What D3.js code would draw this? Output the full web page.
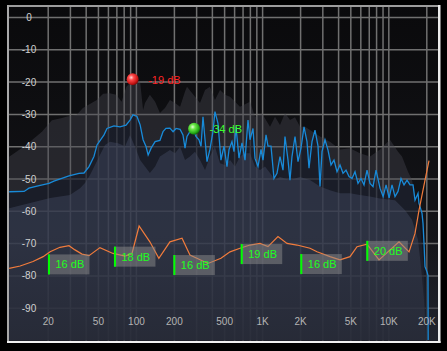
<!DOCTYPE html>
<html><head><meta charset="utf-8">
<script src="https://cdn.jsdelivr.net/npm/d3@7"></script>
<style>
html,body{margin:0;padding:0;background:#000;overflow:hidden;}
svg{display:block;}
text{font-family:"Liberation Sans",Arial,sans-serif;}
</style></head><body>
<svg id="c" width="447" height="351"></svg>
<script>
// ---- data ----
const freqTicks = [20,50,100,200,500,1000,2000,5000,10000,20000];
const freqTickLabels = ["20","50","100","200","500","1K","2K","5K","10K","20K"];
const gridFreqs = [20,30,40,50,60,70,80,90,100,200,300,400,500,600,700,800,900,1000,2000,3000,4000,5000,6000,7000,8000,9000,10000,20000];
const dbTicks = [0,-10,-20,-30,-40,-50,-60,-70,-80,-90];
const dbTickLabels = ["0","-10","-20","-30","-40","-50","-60","-70","-80","-90"];

const blueFreq = [9.9,13,14.2,17.1,20.5,22.4,29.5,35.4,38.8,42.5,46.5,49.2,55.9,59,67,74.8,83.5,89.8,94.8,102,108,114,120,125,132,142,155,164,173,186,197,208,224,236,245,254,268,283,299,316,328,340,353,366,386,408,423,447,472,499,527,547,577,599,621,656,693,732,773,802,847,878,928,980,1016,1074,1113,1176,1242,1312,1386,1464,1518,1604,1663,1725,1823,1925,2033,2148,2268,2353,2485,2625,2773,2876,2983,3150,3328,3515,3713,3922,4143,4376,4622,4882,5157,5447,5754,6078,6420,6781,7163,7566,7992,8596,9100,9600,10150,10700,11300,11937,12608,13318,14068,14860,15697,16280,17195,17500,17834,18496,18840,19180,19533,20259,20632,20700];
const blueDb = [-54.1,-54,-53,-52.2,-51.5,-50.8,-49.2,-48.4,-48.3,-46.3,-43.2,-39.6,-36.5,-34.5,-33.7,-34,-33.5,-31.9,-30.3,-30.8,-33.4,-38,-40,-42.7,-40.6,-38.6,-38.2,-35.5,-34.5,-34.4,-35.5,-34.5,-34.8,-36.5,-40.6,-37,-35.5,-34.5,-37,-38,-40,-30.9,-38,-44.8,-41,-35.5,-29.3,-32.9,-44.3,-40,-46.3,-41,-38.6,-41.7,-34,-43.7,-39,-44.3,-31.9,-38,-34.5,-43.7,-46.3,-41,-44.3,-36.5,-40,-40,-50,-48.4,-43.2,-47.4,-37,-44.3,-50.5,-43.2,-37,-44.8,-40.6,-34,-38.6,-46.8,-38.6,-35,-40,-52.5,-41.7,-38,-41.2,-45.8,-44.3,-47.9,-45.8,-48.4,-47.4,-49.4,-50,-47.9,-51.5,-50,-52,-47.4,-51.5,-52.5,-47.4,-53,-55.6,-52,-56,-52,-55.6,-54,-50,-52,-50.5,-52,-52,-56.7,-54.6,-57.7,-58.7,-60.8,-63.9,-70,-77.3,-78.9,-80,-100];

const peakFreq = [9.9,13.5,18,21.6,26,28.5,34,38,49,55,62,70,77,84,93,108,114,118,129,142,155,170,186,204,224,245,254,294,322,353,386,423,464,508,557,668,802,878,998,1155,1265,1386,1518,1663,1823,1996,2188,2396,2625,2876,3451,4143,4972,5968,7163,8596,10316,11937,12840,14324,15408,16280,17195,18158,19180,19892];
const peakDb = [-43.3,-39.6,-35.5,-32,-31.3,-30.8,-30.3,-28.2,-25.7,-23.8,-23.6,-24.1,-26.2,-21.6,-19.8,-20,-28.8,-26.6,-24.1,-26.2,-29.7,-28.2,-25.7,-26.6,-27.8,-23.1,-21.6,-24.7,-26.6,-22.6,-21.6,-25.7,-22.6,-24.1,-24.7,-27.8,-26.2,-30.9,-29.9,-34,-30.9,-33.4,-29.7,-31.9,-31,-34,-34,-35,-36,-37,-38.6,-41,-40.6,-42.2,-43.2,-41,-38,-41.7,-43.2,-47.9,-50.5,-55.6,-59,-67,-80,-100];

const avgFreq = [9.9,14.5,20.9,30,36.1,39.5,43.3,47.4,51.9,56.9,62.3,72.1,82,89.8,98.4,108,118,129,142,155,170,186,204,224,245,268,294,322,353,386,423,464,508,557,610,668,732,802,878,962,1054,1155,1265,1386,1663,1996,2396,2876,3451,4143,4972,5968,7163,8596,11300,13564,15408,17195,18158,19180,19892];
const avgDb = [-59.2,-57.6,-56,-55.1,-53,-51.4,-48.9,-45.8,-42.7,-39.6,-38.6,-39.1,-40,-36.5,-40.2,-44.3,-46.3,-48.3,-46.3,-43.2,-42.2,-41.2,-42.2,-40.2,-44.3,-43.2,-41.7,-44.3,-47.4,-43.2,-40.2,-45.3,-45.8,-44.3,-46.3,-43.2,-42.2,-42.2,-46.3,-47.4,-46.3,-48.3,-50.5,-49.5,-50.5,-49.5,-50.5,-52.5,-53.6,-54.6,-54.6,-55.1,-55.6,-56.2,-56.7,-59.8,-62.8,-69,-77.3,-87.6,-100];

const orangeFreq = [9.9,12.1,15.3,18.4,20.9,25,29.5,32.9,37.4,42.5,51.9,65.8,82,93.1,106,129,152,186,232,268,373,472,557,668,802,962,1113,1336,1575,1890,2396,2723,3451,4143,4972,5650,6781,8442,12157,14592,16280,17511,19533,21010];
const orangeDb = [-77.8,-77.1,-75.7,-74.2,-72.7,-71.3,-70.8,-72.1,-73.4,-73.9,-71.4,-73.2,-74,-73.2,-64.7,-69.6,-74.7,-69.6,-68.5,-73.7,-76.3,-74.7,-72.7,-71.6,-70.6,-70.1,-71.1,-68,-70.1,-70.6,-71.6,-72.7,-74.2,-75.2,-74.2,-71.1,-70.3,-75.2,-69.6,-72.7,-67,-59.8,-50.5,-44.5];

const bandFreq = [20.1,67,198,677,2007,6694];
const bandTopDb = [-73.5,-71.1,-73.7,-70.3,-73.4,-69.3];
const bandGain = ["16 dB","18 dB","16 dB","19 dB","16 dB","20 dB"];

const markerFreq = [94.3,289];
const markerDb = [-19.3,-34.6];
const markerLabels = ["-19 dB","-34 dB"];

// ---- layout ----
const W = 447, H = 351;
const P = {l:9, t:7, r:438, b:341};
const svg = d3.select("#c");
const x = d3.scaleLog().domain([20,20000]).range([47.7,426.3]);
const y = d3.scaleLinear().domain([0,-100]).range([17,340]);

const defs = svg.append("defs");
defs.append("clipPath").attr("id","clip").append("rect")
  .attr("x",P.l).attr("y",P.t).attr("width",P.r-P.l).attr("height",P.b-P.t);
const bg = defs.append("linearGradient").attr("id","bg").attr("x1",0).attr("y1",0).attr("x2",0).attr("y2",1);
bg.append("stop").attr("offset","0%").attr("stop-color","#0a0a0c");
bg.append("stop").attr("offset","100%").attr("stop-color","#17181d");
const fade = defs.append("linearGradient").attr("id","fade").attr("x1",0).attr("y1",0).attr("x2",0).attr("y2",1);
fade.append("stop").attr("offset","0%").attr("stop-color","#252833").attr("stop-opacity",0);
fade.append("stop").attr("offset","100%").attr("stop-color","#252833").attr("stop-opacity",0.75);
function ballGrad(id, c0, c1, c2, c3){
  const g = defs.append("radialGradient").attr("id",id).attr("cx","38%").attr("cy","35%").attr("r","70%");
  g.append("stop").attr("offset","0%").attr("stop-color",c0);
  g.append("stop").attr("offset","30%").attr("stop-color",c1);
  g.append("stop").attr("offset","75%").attr("stop-color",c2);
  g.append("stop").attr("offset","100%").attr("stop-color",c3);
}
ballGrad("ballR","#ffd6d6","#ff4a4a","#c41414","#6a0606");
ballGrad("ballG","#e6ffd6","#6ee84a","#22a814","#0c5206");

svg.append("rect").attr("width",W).attr("height",H).attr("fill","#000");
const plot = svg.append("g").attr("clip-path","url(#clip)");
plot.append("rect").attr("x",P.l).attr("y",P.t).attr("width",P.r-P.l).attr("height",P.b-P.t).attr("fill","url(#bg)");

// grid
const gx = plot.append("g").attr("transform",`translate(0,${P.b})`)
  .call(d3.axisBottom(x).tickValues(gridFreqs).tickSize(-(P.b-P.t)).tickFormat(""));
const gy = plot.append("g").attr("transform",`translate(${P.l},0)`)
  .call(d3.axisLeft(y).tickValues(dbTicks).tickSize(-(P.r-P.l)).tickFormat(""));
[gx,gy].forEach(g=>{ g.select(".domain").remove();
  g.selectAll("line").attr("stroke","#707070").attr("stroke-width",1.5); });

const area = d3.area().x(d=>x(d[0])).y0(y(-100)).y1(d=>y(d[1]));
const line = d3.line().x(d=>x(d[0])).y(d=>y(d[1]));
const zip = (a,b)=>a.map((v,i)=>[v,b[i]]);
const peak = zip(peakFreq,peakDb), blue = zip(blueFreq,blueDb), avg = zip(avgFreq,avgDb), orange = zip(orangeFreq,orangeDb);

plot.append("path").attr("d",area(peak)).attr("fill","rgb(70,70,78)").attr("fill-opacity",0.42);
plot.append("path").attr("d",area(blue)).attr("fill","rgb(14,20,36)").attr("fill-opacity",0.5);
plot.append("path").attr("d",area(avg)).attr("fill","rgb(72,80,106)").attr("fill-opacity",0.4);
plot.append("rect").attr("x",P.l).attr("y",235).attr("width",P.r-P.l).attr("height",P.b-235).attr("fill","url(#fade)");

plot.append("path").attr("d",line(blue)).attr("fill","none").attr("stroke","#188ad8").attr("stroke-width",1.3).attr("stroke-linejoin","miter");
plot.append("path").attr("d",line(orange)).attr("fill","none").attr("stroke","#f27c3c").attr("stroke-width",1.2);

// band boxes
const bands = plot.append("g").selectAll("g").data(bandFreq).join("g")
  .attr("transform",(d,i)=>`translate(${x(d)},${y(bandTopDb[i])})`);
bands.append("rect").attr("width",41.5).attr("height",20).attr("fill","#8c8c8c").attr("fill-opacity",0.5);
bands.append("rect").attr("width",2).attr("height",20).attr("fill","#00ff00");
bands.append("text").attr("x",7.5).attr("y",14).attr("font-size",11).attr("fill","#1eff1e").text((d,i)=>bandGain[i]);

// markers
const mk = plot.append("g").selectAll("g").data(markerFreq).join("g")
  .attr("transform",(d,i)=>`translate(${x(d)},${y(markerDb[i])})`);
mk.append("circle").attr("r",6).attr("fill",(d,i)=>i===0?"url(#ballR)":"url(#ballG)");
mk.append("text").attr("x",15.5).attr("y",4.6).attr("font-size",11)
  .attr("fill",(d,i)=>i===0?"#ff2424":"#3cff2c").text((d,i)=>markerLabels[i]);

// axis labels
const ax = plot.append("g").attr("transform","translate(0,317.5)")
  .call(d3.axisBottom(x).tickValues(freqTicks).tickSize(0).tickPadding(0).tickFormat((d,i)=>freqTickLabels[i]));
ax.select(".domain").remove();
ax.selectAll("text").attr("font-family","Liberation Sans, Arial, sans-serif").attr("font-size",10).attr("fill","#b4b4b4");
const ay = plot.append("g").attr("transform","translate(29,0)")
  .call(d3.axisLeft(y).tickValues(dbTicks).tickSize(0).tickPadding(0).tickFormat((d,i)=>dbTickLabels[i]));
ay.select(".domain").remove();
ay.selectAll("text").attr("text-anchor","middle").attr("x",0).attr("dy","0.35em")
  .attr("font-family","Liberation Sans, Arial, sans-serif").attr("font-size",10).attr("fill","#d0d0d0");

// borders
svg.append("rect").attr("x",7).attr("y",5).attr("width",433).attr("height",2).attr("fill","#9c9c9c");
svg.append("rect").attr("x",7).attr("y",5).attr("width",2).attr("height",338).attr("fill","#a8a8a8");
svg.append("rect").attr("x",438).attr("y",5).attr("width",2.5).attr("height",338).attr("fill","#ececec");
svg.append("rect").attr("x",7).attr("y",341).attr("width",433.5).attr("height",2).attr("fill","#f0f0f0");
</script>
</body></html>
